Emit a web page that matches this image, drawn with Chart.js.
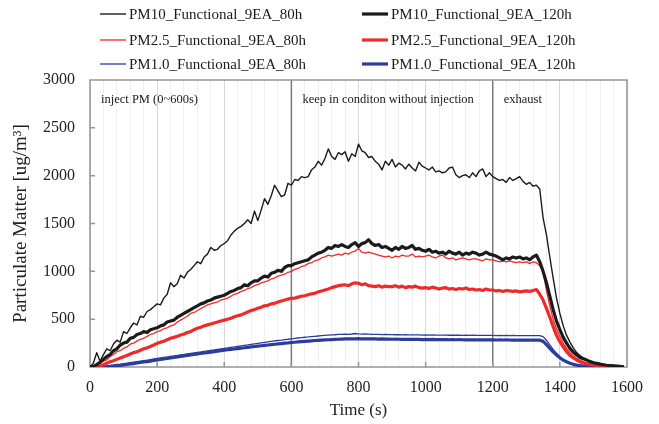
<!DOCTYPE html>
<html>
<head>
<meta charset="utf-8">
<script src="https://cdn.jsdelivr.net/npm/chart.js@4.4.0/dist/chart.umd.min.js"></script>
<style>
  html, body { margin: 0; padding: 0; background: #fff; }
</style>
</head>
<body>
<canvas id="pmChart" width="659" height="424"></canvas>
<script>
// time axis, one sample every 10 s
const times = [
  0, 10, 20, 30, 40, 50, 60, 70, 80, 90,
  100, 110, 120, 130, 140, 150, 160, 170, 180, 190,
  200, 210, 220, 230, 240, 250, 260, 270, 280, 290,
  300, 310, 320, 330, 340, 350, 360, 370, 380, 390,
  400, 410, 420, 430, 440, 450, 460, 470, 480, 490,
  500, 510, 520, 530, 540, 550, 560, 570, 580, 590,
  600, 610, 620, 630, 640, 650, 660, 670, 680, 690,
  700, 710, 720, 730, 740, 750, 760, 770, 780, 790,
  800, 810, 820, 830, 840, 850, 860, 870, 880, 890,
  900, 910, 920, 930, 940, 950, 960, 970, 980, 990,
  1000, 1010, 1020, 1030, 1040, 1050, 1060, 1070, 1080, 1090,
  1100, 1110, 1120, 1130, 1140, 1150, 1160, 1170, 1180, 1190,
  1200, 1210, 1220, 1230, 1240, 1250, 1260, 1270, 1280, 1290,
  1300, 1310, 1320, 1330, 1340, 1350, 1360, 1370, 1380, 1390,
  1400, 1410, 1420, 1430, 1440, 1450, 1460, 1470, 1480, 1490,
  1500, 1510, 1520, 1530, 1540, 1550, 1560, 1570, 1580, 1590,
];

const pm10_80h = [
  0, 40, 150, 60, 130, 190, 170, 240, 280, 260,
  370, 350, 410, 460, 440, 530, 520, 580, 600, 630,
  660, 650, 720, 760, 880, 840, 870, 960, 930, 990,
  1020, 1060, 1100, 1080, 1150, 1180, 1250, 1220, 1230, 1270,
  1290, 1320, 1380, 1420, 1450, 1470, 1500, 1540, 1500, 1630,
  1530, 1640, 1760, 1700, 1790, 1900, 1840, 1780, 1800, 1920,
  1900, 1960, 1950, 1990, 1980, 1990, 2060, 2090, 2150, 2110,
  2180, 2280, 2200, 2170, 2240, 2220, 2250, 2150, 2230, 2200,
  2330, 2260, 2240, 2190, 2200, 2150, 2120, 2060, 2150, 2110,
  2170, 2090, 2130, 2110, 2070, 2120, 2080, 2050, 2140, 2100,
  2080, 2060, 2090, 2040, 2050, 2030, 2040, 2080, 2090, 2010,
  1980, 2000, 2010, 1980, 2030, 1990, 2050, 2070, 1990, 2030,
  1990, 1970, 1950, 1960, 1930, 1980, 1950, 1970, 1990, 1940,
  1910, 1930, 1890, 1900, 1860, 1560, 1380, 1150, 930, 720,
  560, 430, 330, 260, 200, 150, 120, 95, 75, 60,
  50, 40, 32, 26, 20, 16, 12, 9, 6, 4,
];

const pm10_120h = [
  0, 5, 25, 50, 80, 110, 130, 170, 190, 230,
  250, 260, 300, 310, 340, 350, 370, 360, 390, 400,
  410, 430, 440, 470, 480, 490, 520, 540, 560, 580,
  600, 620, 640, 660, 670, 690, 700, 720, 730, 740,
  750, 770, 790, 800, 820, 830, 860, 850, 880, 900,
  900, 930, 950, 940, 980, 990, 1010, 1000, 1040, 1060,
  1060, 1080, 1090, 1100, 1110, 1120, 1150, 1170, 1190, 1200,
  1220, 1250, 1240, 1270, 1260, 1280, 1260, 1250, 1280, 1300,
  1260, 1290, 1300, 1330, 1290, 1270, 1280, 1250, 1260, 1240,
  1220, 1250, 1230, 1260, 1240, 1250, 1270, 1230, 1240, 1220,
  1210, 1230, 1200, 1210, 1190, 1200, 1180, 1210, 1190, 1180,
  1200, 1170, 1190, 1180, 1200, 1190, 1170, 1180, 1200, 1180,
  1170, 1160, 1140, 1120, 1140, 1130, 1150, 1140, 1150, 1130,
  1140, 1120, 1150, 1170, 1100, 1000, 880, 740, 600, 480,
  390, 310, 250, 195, 155, 125, 100, 85, 72, 58,
  45, 38, 30, 24, 18, 15, 12, 9, 6, 4,
];

const pm25_80h = [
  0, 10, 30, 40, 60, 75, 110, 130, 160, 170,
  195, 210, 240, 250, 270, 290, 300, 320, 340, 350,
  370, 380, 400, 410, 430, 440, 470, 490, 510, 530,
  560, 570, 590, 610, 630, 650, 660, 670, 680, 700,
  710, 720, 740, 760, 770, 790, 800, 820, 830, 850,
  860, 880, 890, 900, 920, 930, 950, 960, 970, 990,
  1000, 1020, 1030, 1050, 1060, 1080, 1090, 1110, 1120, 1140,
  1150, 1170, 1160, 1170, 1180, 1170, 1190, 1180, 1200, 1210,
  1240, 1200, 1190, 1200, 1190, 1180, 1170, 1160, 1150, 1160,
  1140, 1160, 1150, 1170, 1160, 1160, 1180, 1150, 1160, 1150,
  1160, 1170, 1150, 1140, 1160, 1170, 1140, 1130, 1140, 1120,
  1130, 1140, 1130, 1120, 1130, 1130, 1120, 1110, 1130, 1120,
  1120, 1110, 1100, 1110, 1100, 1110, 1100, 1090, 1100, 1090,
  1100, 1080, 1100, 1090, 1060, 1000, 800, 640, 500, 400,
  320, 250, 195, 150, 115, 90, 70, 55, 44, 36,
  30, 25, 20, 16, 13, 10, 8, 6, 4, 3,
];

const pm25_120h = [
  0, 2, 5, 10, 25, 40, 55, 65, 80, 95,
  108, 120, 135, 150, 160, 175, 190, 200, 215, 230,
  247, 260, 270, 285, 300, 310, 320, 335, 345, 360,
  370, 390, 405, 415, 430, 440, 450, 460, 470, 480,
  490, 500, 510, 525, 535, 545, 560, 575, 590, 600,
  615, 625, 640, 645, 660, 665, 680, 690, 700, 710,
  718, 720, 730, 740, 745, 755, 765, 770, 785, 795,
  805, 815, 830, 840, 850, 855, 860, 850, 870, 880,
  875, 860, 870, 850, 845, 840, 850, 835, 845, 840,
  840, 850, 835, 845, 830, 840, 835, 845, 830, 825,
  830, 820, 835, 825, 815, 825, 830, 815, 820, 810,
  820, 815, 825, 810, 815, 805, 810, 800, 815, 805,
  805, 795, 800, 790, 800, 795, 790, 795, 785, 790,
  795, 790, 800, 810, 760, 700, 613, 520, 422, 330,
  265, 210, 160, 120, 95, 73, 55, 42, 32, 26,
  21, 17, 14, 11, 9, 7, 6, 5, 4, 3,
];

const pm1_80h = [
  0, 0, 0, 2, 5, 10, 15, 20, 26, 30,
  35, 40, 46, 52, 57, 62, 67, 72, 78, 84,
  90, 95, 100, 105, 111, 116, 121, 127, 132, 138,
  143, 148, 153, 158, 164, 169, 174, 179, 185, 190,
  195, 200, 205, 210, 216, 221, 226, 231, 237, 242,
  247, 252, 257, 262, 267, 272, 277, 281, 286, 290,
  295, 299, 303, 307, 311, 314, 318, 321, 324, 327,
  330, 333, 335, 337, 340, 342, 343, 341, 345, 350,
  346, 344, 345, 343, 341, 340, 341, 339, 340, 338,
  339, 337, 338, 336, 337, 336, 335, 336, 335, 334,
  335, 334, 335, 333, 334, 333, 334, 332, 333, 332,
  333, 331, 332, 331, 332, 330, 331, 330, 331, 330,
  331, 329, 330, 329, 330, 329, 330, 328, 329, 328,
  329, 328, 329, 328, 327, 317, 280, 232, 185, 143,
  106, 78, 56, 40, 28, 20, 14, 10, 6, 4,
  3, 2, 1, 1, 0, 0, 0, 0, 0, 0,
];

const pm1_120h = [
  0, 0, 0, 0, 1, 3, 6, 10, 14, 17,
  21, 26, 31, 36, 42, 47, 52, 57, 62, 68,
  73, 78, 84, 89, 94, 99, 105, 110, 115, 121,
  126, 131, 136, 141, 146, 151, 156, 161, 166, 171,
  175, 180, 184, 188, 193, 197, 201, 206, 210, 214,
  218, 222, 226, 230, 234, 238, 241, 245, 249, 252,
  256, 259, 262, 265, 268, 271, 274, 277, 279, 281,
  283, 285, 287, 289, 290, 292, 293, 294, 295, 295,
  296, 295, 294, 295, 293, 294, 292, 293, 291, 292,
  290, 291, 290, 289, 290, 289, 288, 289, 288, 287,
  288, 287, 288, 286, 287, 286, 287, 285, 286, 285,
  286, 285, 284, 285, 284, 283, 284, 283, 284, 283,
  283, 282, 283, 282, 283, 282, 281, 282, 281, 282,
  281, 282, 281, 282, 280, 268, 235, 195, 158, 126,
  96, 72, 55, 40, 28, 20, 14, 9, 6, 4,
  3, 2, 1, 1, 0, 0, 0, 0, 0, 0,
];

// phase boundaries and their captions
const phaseStarts = [0, 600, 1200];
const phaseLabels = ["inject PM (0~600s)", "keep in conditon without injection", "exhaust"];

const serif = "'Liberation Serif', 'Times New Roman', serif";
const black = "#1b1b1b";
const red = "#ee2a2a";
const blue = "#2c3c9c";

// vertical phase lines, captions, frame and inward tick marks
const phasePlugin = {
  id: "phases",
  beforeDatasetsDraw(chart) {
    const { ctx, chartArea: a, scales: { x, y } } = chart;
    ctx.save();

    ctx.strokeStyle = "#7c7c7c";
    ctx.lineWidth = 1.5;
    phaseStarts.slice(1).forEach((t) => {
      const px = x.getPixelForValue(t);
      ctx.beginPath();
      ctx.moveTo(px, a.top);
      ctx.lineTo(px, a.bottom);
      ctx.stroke();
    });

    ctx.strokeStyle = "#959595";
    ctx.strokeRect(a.left, a.top, a.right - a.left, a.bottom - a.top);
    ctx.beginPath();
    for (let t = 200; t < 1600; t += 200) {
      const px = x.getPixelForValue(t);
      ctx.moveTo(px, a.bottom);
      ctx.lineTo(px, a.bottom - 5);
    }
    for (let v = 500; v < 3000; v += 500) {
      const py = y.getPixelForValue(v);
      ctx.moveTo(a.left, py);
      ctx.lineTo(a.left + 5, py);
    }
    ctx.stroke();

    ctx.fillStyle = black;
    ctx.font = `12.5px ${serif}`;
    ctx.textBaseline = "middle";
    phaseLabels.forEach((label, i) => {
      ctx.fillText(label, x.getPixelForValue(phaseStarts[i]) + 11, a.top + 20);
    });
    ctx.restore();
  },
  // two-column legend above the plot
  afterDraw(chart) {
    const { ctx } = chart;
    const colX = [100, 362];
    const rowY = [14, 40, 64];
    ctx.save();
    ctx.font = `15px ${serif}`;
    ctx.textBaseline = "middle";
    chart.data.datasets.forEach((ds, i) => {
      const cx = colX[i % 2];
      const cy = rowY[Math.floor(i / 2)];
      ctx.strokeStyle = ds.borderColor;
      ctx.lineWidth = ds.borderWidth;
      ctx.beginPath();
      ctx.moveTo(cx, cy);
      ctx.lineTo(cx + 26, cy);
      ctx.stroke();
      ctx.fillStyle = black;
      ctx.fillText(ds.label, cx + 29, cy + 1);
    });
    ctx.restore();
  },
};

new Chart(document.getElementById("pmChart"), {
  type: "line",
  data: {
    labels: times,
    datasets: [
      { label: "PM10_Functional_9EA_80h", data: pm10_80h, borderColor: black, borderWidth: 1.4 },
      { label: "PM10_Functional_9EA_120h", data: pm10_120h, borderColor: black, borderWidth: 3.2 },
      { label: "PM2.5_Functional_9EA_80h", data: pm25_80h, borderColor: red, borderWidth: 1.3 },
      { label: "PM2.5_Functional_9EA_120h", data: pm25_120h, borderColor: red, borderWidth: 3.2 },
      { label: "PM1.0_Functional_9EA_80h", data: pm1_80h, borderColor: blue, borderWidth: 1.3 },
      { label: "PM1.0_Functional_9EA_120h", data: pm1_120h, borderColor: blue, borderWidth: 3.2 },
    ],
  },
  options: {
    responsive: false,
    animation: false,
    layout: { padding: { top: 80, right: 32, left: 0, bottom: 0 } },
    plugins: { legend: { display: false }, tooltip: { enabled: false } },
    elements: {
      point: { radius: 0 },
      line: { tension: 0, borderJoinStyle: "round", fill: false },
    },
    scales: {
      x: {
        type: "linear",
        min: 0,
        max: 1600,
        afterFit: (s) => { s.height = 57; },
        ticks: {
          stepSize: 40,
          autoSkip: false,
          maxRotation: 0,
          padding: 11,
          color: "#222",
          font: { family: serif, size: 16 },
          callback: (v) => (v % 200 === 0 ? String(v) : ""),
        },
        grid: {
          drawTicks: false,
          lineWidth: 1,
          color: (c) => (c.tick && c.tick.value % 200 === 0 ? "#d8d8d8" : "#efefef"),
        },
        border: { display: false },
        title: {
          display: true,
          text: "Time (s)",
          color: "#222",
          font: { family: serif, size: 17 },
          padding: { top: 0, bottom: 3 },
        },
      },
      y: {
        min: 0,
        max: 3000,
        afterFit: (s) => { s.width = 90; },
        ticks: {
          stepSize: 500,
          padding: 15,
          color: "#222",
          font: { family: serif, size: 16 },
          callback: (v) => String(v),
        },
        grid: { display: false, drawTicks: false },
        border: { display: false },
        title: {
          display: true,
          text: "Particulate Matter [ug/m³]",
          color: "#222",
          font: { family: serif, size: 19 },
          padding: { top: 10, bottom: 0 },
        },
      },
    },
  },
  plugins: [phasePlugin],
});
</script>
</body>
</html>
